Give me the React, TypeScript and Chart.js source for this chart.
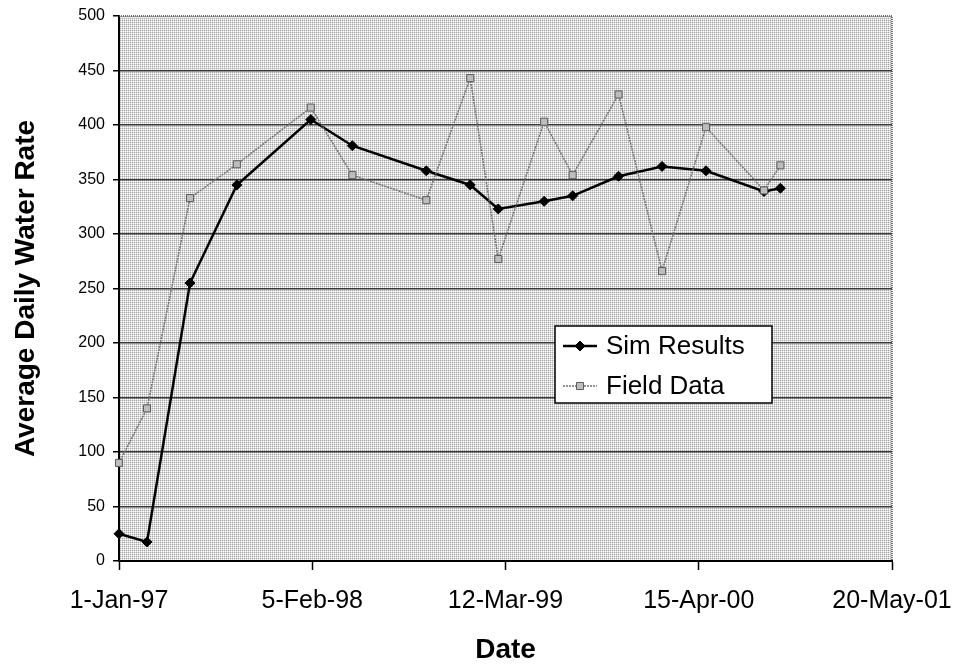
import React, { useEffect, useRef } from "react";
import { Chart, registerables } from "chart.js";

Chart.register(...registerables);

// Days counted from 1-Jan-97
const sampleDays = [0, 58, 147, 244, 397, 483, 636, 727, 785, 880, 939, 1034, 1124, 1215, 1335, 1369];
const simResults = [25, 17.5, 255, 345, 405, 381, 358, 345, 323, 330, 335, 353, 362, 358, 339, 342];
const fieldData = [90, 140, 333, 364, 416, 354, 331, 443, 277, 403, 354, 428, 266, 398, 340, 363];
const xTickDays = [0, 400, 800, 1200, 1600];
const xTickLabels = ["1-Jan-97", "5-Feb-98", "12-Mar-99", "15-Apr-00", "20-May-01"];
const yMin = 0;
const yMax = 500;
const yStep = 50;
const seriesNames = ["Sim Results", "Field Data"];

const FONT = "Arial, 'Liberation Sans', sans-serif";

const plotBackground = {
  id: "plotBackground",
  beforeDraw(chart: any) {
    const { ctx, chartArea: a } = chart;
    const tile = document.createElement("canvas");
    tile.width = 2;
    tile.height = 2;
    const t = tile.getContext("2d")!;
    t.fillStyle = "#ffffff";
    t.fillRect(0, 0, 2, 2);
    t.fillStyle = "#a8a8a8";
    t.fillRect(0, 0, 1, 1);
    t.fillStyle = "#dcdcdc";
    t.fillRect(1, 0, 1, 1);
    t.fillRect(0, 1, 1, 1);
    const pat = ctx.createPattern(tile, "repeat");
    ctx.save();
    ctx.fillStyle = pat;
    ctx.fillRect(a.left, a.top, a.right - a.left, a.bottom - a.top);
    ctx.restore();
  },
  beforeDatasetsDraw(chart: any) {
    const { ctx, chartArea: a } = chart;
    ctx.save();
    ctx.strokeStyle = "#444";
    ctx.lineWidth = 1.5;
    ctx.setLineDash([1, 1]);
    ctx.beginPath();
    ctx.moveTo(a.left, a.top);
    ctx.lineTo(a.right, a.top);
    ctx.lineTo(a.right, a.bottom);
    ctx.stroke();
    ctx.restore();
  },
};

function drawMarker(ctx: CanvasRenderingContext2D, ds: any, x: number, y: number) {
  const r = ds.pointRadius;
  ctx.save();
  ctx.setLineDash([]);
  ctx.fillStyle = ds.pointBackgroundColor;
  ctx.strokeStyle = ds.pointBorderColor;
  ctx.lineWidth = ds.pointBorderWidth;
  ctx.beginPath();
  if (ds.pointStyle === "rectRot") {
    ctx.moveTo(x, y - r);
    ctx.lineTo(x + r, y);
    ctx.lineTo(x, y + r);
    ctx.lineTo(x - r, y);
    ctx.closePath();
  } else {
    const s = r * Math.SQRT1_2;
    ctx.rect(x - s, y - s, 2 * s, 2 * s);
  }
  ctx.fill();
  ctx.stroke();
  ctx.restore();
}

const boxLegend = {
  id: "boxLegend",
  afterDraw(chart: any) {
    const { ctx, chartArea: a } = chart;
    const left = a.left + 436;
    const top = a.top + 310;
    const w = 217;
    const h = 77;
    ctx.save();
    ctx.fillStyle = "#ffffff";
    ctx.fillRect(left, top, w, h);
    ctx.strokeStyle = "#000";
    ctx.lineWidth = 1.5;
    ctx.strokeRect(left, top, w, h);
    const rows = [top + 20, top + 60];
    chart.data.datasets.forEach((ds: any, i: number) => {
      const y = rows[i];
      ctx.save();
      ctx.strokeStyle = ds.borderColor;
      ctx.lineWidth = ds.borderWidth;
      ctx.setLineDash(ds.borderDash || []);
      ctx.beginPath();
      ctx.moveTo(left + 8, y);
      ctx.lineTo(left + 42, y);
      ctx.stroke();
      ctx.restore();
      drawMarker(ctx, ds, left + 25, y);
      ctx.fillStyle = "#000";
      ctx.font = `26px ${FONT}`;
      ctx.textAlign = "left";
      ctx.textBaseline = "middle";
      ctx.fillText(ds.label, left + 51, y + 1);
    });
    ctx.restore();
  },
};

export default function App() {
  const ref = useRef<HTMLCanvasElement>(null);

  useEffect(() => {
    if (!ref.current) return;
    const chart = new Chart(ref.current, {
      type: "line",
      data: {
        datasets: [
          {
            label: seriesNames[0],
            data: sampleDays.map((d, i) => ({ x: d, y: simResults[i] })),
            borderColor: "#000000",
            borderWidth: 2.5,
            pointStyle: "rectRot",
            pointRadius: 5,
            pointBackgroundColor: "#000000",
            pointBorderColor: "#000000",
            pointBorderWidth: 1,
            order: 1,
            clip: false,
          } as any,
          {
            label: seriesNames[1],
            data: sampleDays.map((d, i) => ({ x: d, y: fieldData[i] })),
            borderColor: "#707070",
            borderWidth: 1.5,
            borderDash: [2, 1],
            pointStyle: "rect",
            pointRadius: 5,
            pointBackgroundColor: "#bdbdbd",
            pointBorderColor: "#5a5a5a",
            pointBorderWidth: 1,
            order: 0,
            clip: false,
          } as any,
        ],
      },
      options: {
        responsive: false,
        animation: false,
        devicePixelRatio: 1,
        layout: { padding: { top: 16, right: 67, left: 0, bottom: 0 } },
        plugins: {
          legend: { display: false },
          tooltip: { enabled: false },
        },
        elements: { line: { tension: 0 } },
        scales: {
          x: {
            type: "linear",
            min: xTickDays[0],
            max: xTickDays[xTickDays.length - 1],
            afterBuildTicks: (s: any) => {
              s.ticks = xTickDays.map((v) => ({ value: v }));
            },
            afterFit: (s: any) => {
              s.height = 104;
              s.paddingLeft = 0;
              s.paddingRight = 0;
            },
            ticks: {
              autoSkip: false,
              maxRotation: 0,
              padding: 16,
              color: "#000",
              font: { family: FONT, size: 25 },
              callback: (v: any) => {
                const i = xTickDays.indexOf(Number(v));
                return i >= 0 ? xTickLabels[i] : "";
              },
            },
            grid: {
              drawOnChartArea: false,
              drawTicks: true,
              tickLength: 9,
              tickColor: "#000",
              tickWidth: 1.5,
            },
            border: { color: "#000", width: 2 },
            title: {
              display: true,
              text: "Date",
              color: "#000",
              font: { family: FONT, size: 28, weight: "bold" },
              padding: { top: 0, bottom: -2 },
            },
          },
          y: {
            type: "linear",
            min: yMin,
            max: yMax,
            afterFit: (s: any) => {
              s.width = 119;
              s.paddingTop = 0;
              s.paddingBottom = 0;
            },
            ticks: {
              stepSize: yStep,
              padding: 8,
              color: "#000",
              font: { family: FONT, size: 16 },
            },
            grid: {
              color: (c: any) => (c.tick && c.tick.value === yMax ? "rgba(0,0,0,0)" : "#3a3a3a"),
              lineWidth: 1.5,
              drawTicks: true,
              tickLength: 6,
              tickColor: "#000",
              tickWidth: 1.5,
            },
            border: { color: "#000", width: 2 },
            title: {
              display: true,
              text: "Average Daily Water Rate",
              color: "#000",
              font: { family: FONT, size: 28, weight: "bold" },
              padding: { top: 9, bottom: 0 },
            },
          },
        },
      } as any,
      plugins: [plotBackground, boxLegend],
    });
    return () => chart.destroy();
  }, []);

  return (
    <div style={{ position: "absolute", left: 0, top: 0, width: 959, height: 665, background: "#fff" }}>
      <canvas ref={ref} width={959} height={665} style={{ display: "block", width: 959, height: 665 }} />
    </div>
  );
}
